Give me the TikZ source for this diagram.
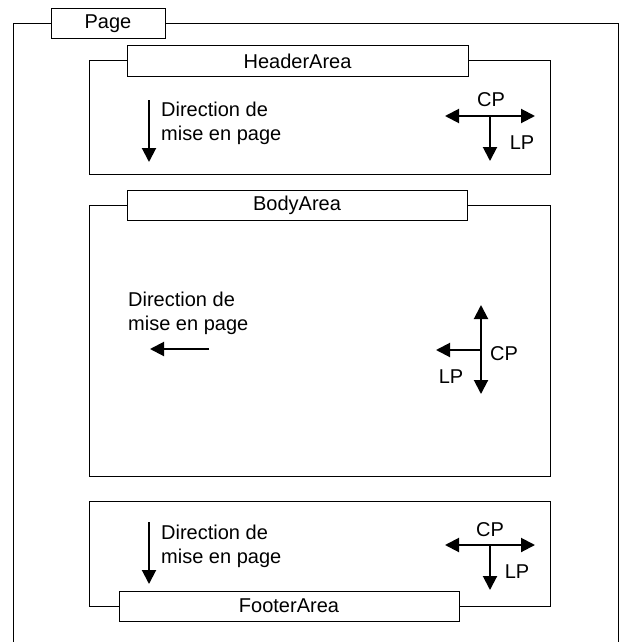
\documentclass[tikz,border=0pt]{standalone}
\usepackage{fontspec}
\setmainfont{Liberation Sans}
\usetikzlibrary{arrows.meta}

\begin{document}
\begin{tikzpicture}[x=1pt,y=-1pt,
  frame/.style={draw=black,line width=1pt},
  tab/.style={draw=black,fill=white,line width=1pt,minimum height=30pt,inner sep=0pt,
    font=\fontsize{20}{24}\selectfont},
  txt/.style={font=\fontsize{20}{24}\selectfont,inner sep=0pt,align=left},
  lbl/.style={font=\fontsize{20}{24}\selectfont,inner sep=0pt},
  dir/.style={line width=2pt,-{Triangle[length=14pt,width=14pt]}},
  bidir/.style={line width=2pt,{Triangle[length=14pt,width=14pt]}-{Triangle[length=14pt,width=14pt]}}
]
\useasboundingbox (0,0) rectangle (631,642);

% ---- page frame ----
\node[tab,minimum width=114pt] (pagetab) at (108,24) {Page};
\draw[frame] (pagetab.west) -- (13,24) -- (13,642);
\draw[frame] (pagetab.east) -- (618.5,24) -- (618.5,642);

% ---- header area ----
\node[tab,minimum width=341pt] (htab) at (297.5,61) {HeaderArea};
\draw[frame] (htab.west) -- (89,61) -- (89,174) -- (550,174) -- (550,61) -- (htab.east);
\coordinate (hd1) at (149,100);
\coordinate (hd2) at (149,162);
\draw[dir] (hd1) -- (hd2);
\node[txt,anchor=west] (htxt) at (161,123) {Direction de\\mise en page};
\coordinate (hl) at (445,116);
\coordinate (hr) at (535,116);
\coordinate (hm) at (490,116);
\coordinate (hb) at (490,161);
\draw[bidir] (hl) -- (hr);
\draw[dir] (hm) -- (hb);
\node[lbl] (hcp) at (491,100) {CP};
\node[lbl] (hlp) at (522,143) {LP};

% ---- body area ----
\node[tab,minimum width=340pt] (btab) at (297,205) {BodyArea};
\draw[frame] (btab.west) -- (89,205) -- (89,476) -- (550,476) -- (550,205) -- (btab.east);
\node[txt,anchor=west] (btxt) at (128,313.5) {Direction de\\mise en page};
\coordinate (bd1) at (209,349);
\coordinate (bd2) at (150,349);
\draw[dir] (bd1) -- (bd2);
\coordinate (bt) at (481,305);
\coordinate (bb) at (481,394);
\coordinate (bm) at (481,350);
\coordinate (bl) at (436,350);
\draw[bidir] (bt) -- (bb);
\draw[dir] (bm) -- (bl);
\node[lbl] (bcp) at (504,354) {CP};
\node[lbl] (blp) at (451,377) {LP};

% ---- footer area ----
\node[tab,minimum width=340pt] (ftab) at (289,606) {FooterArea};
\draw[frame] (ftab.west) -- (89,606) -- (89,501) -- (550,501) -- (550,606) -- (ftab.east);
\coordinate (fd1) at (149,522);
\coordinate (fd2) at (149,584);
\draw[dir] (fd1) -- (fd2);
\node[txt,anchor=west] (ftxt) at (161,546) {Direction de\\mise en page};
\coordinate (fl) at (445,545);
\coordinate (fr) at (535,545);
\coordinate (fm) at (490,545);
\coordinate (fb) at (490,590);
\draw[bidir] (fl) -- (fr);
\draw[dir] (fm) -- (fb);
\node[lbl] (fcp) at (490,530) {CP};
\node[lbl] (flp) at (517,572) {LP};
\end{tikzpicture}
\end{document}
